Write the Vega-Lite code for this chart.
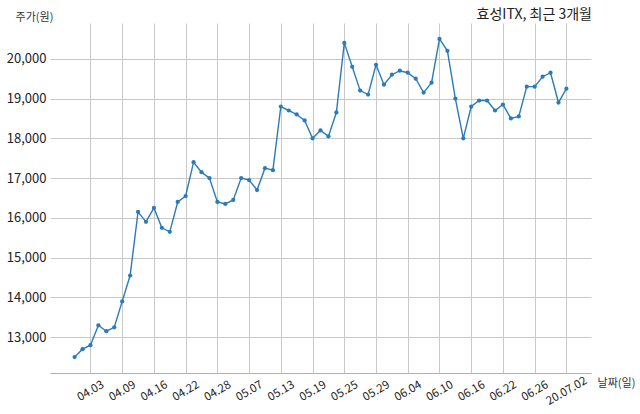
{
  "$schema": "https://vega.github.io/schema/vega-lite/v6.json",
  "width": 541,
  "height": 350,
  "autosize": "none",
  "padding": {"left": 50, "top": 23, "right": 49, "bottom": 41},
  "background": "white",
  "config": {
    "view": {"stroke": null},
    "font": "Noto Sans CJK KR"
  },
  "title": {
    "text": "효성ITX, 최근 3개월",
    "anchor": "end",
    "frame": "group",
    "fontSize": 14,
    "fontWeight": "normal",
    "color": "#222222",
    "offset": 4,
    "dx": 1,
    "dy": 15
  },
  "data": {
    "values": [
      {"day": 0, "date": "04.01", "price": 12500},
      {"day": 1, "date": "04.02", "price": 12700},
      {"day": 2, "date": "04.03", "price": 12800},
      {"day": 3, "date": "04.06", "price": 13300},
      {"day": 4, "date": "04.07", "price": 13150},
      {"day": 5, "date": "04.08", "price": 13250},
      {"day": 6, "date": "04.09", "price": 13900},
      {"day": 7, "date": "04.10", "price": 14550},
      {"day": 8, "date": "04.13", "price": 16150},
      {"day": 9, "date": "04.14", "price": 15900},
      {"day": 10, "date": "04.16", "price": 16250},
      {"day": 11, "date": "04.17", "price": 15750},
      {"day": 12, "date": "04.20", "price": 15650},
      {"day": 13, "date": "04.21", "price": 16400},
      {"day": 14, "date": "04.22", "price": 16550},
      {"day": 15, "date": "04.23", "price": 17400},
      {"day": 16, "date": "04.24", "price": 17150},
      {"day": 17, "date": "04.27", "price": 17000},
      {"day": 18, "date": "04.28", "price": 16400},
      {"day": 19, "date": "04.29", "price": 16350},
      {"day": 20, "date": "05.04", "price": 16450},
      {"day": 21, "date": "05.06", "price": 17000},
      {"day": 22, "date": "05.07", "price": 16950},
      {"day": 23, "date": "05.08", "price": 16700},
      {"day": 24, "date": "05.11", "price": 17250},
      {"day": 25, "date": "05.12", "price": 17200},
      {"day": 26, "date": "05.13", "price": 18800},
      {"day": 27, "date": "05.14", "price": 18700},
      {"day": 28, "date": "05.15", "price": 18600},
      {"day": 29, "date": "05.18", "price": 18450},
      {"day": 30, "date": "05.19", "price": 18000},
      {"day": 31, "date": "05.20", "price": 18200},
      {"day": 32, "date": "05.21", "price": 18050},
      {"day": 33, "date": "05.22", "price": 18650},
      {"day": 34, "date": "05.25", "price": 20400},
      {"day": 35, "date": "05.26", "price": 19800},
      {"day": 36, "date": "05.27", "price": 19200},
      {"day": 37, "date": "05.28", "price": 19100},
      {"day": 38, "date": "05.29", "price": 19850},
      {"day": 39, "date": "06.01", "price": 19350},
      {"day": 40, "date": "06.02", "price": 19600},
      {"day": 41, "date": "06.03", "price": 19700},
      {"day": 42, "date": "06.04", "price": 19650},
      {"day": 43, "date": "06.05", "price": 19500},
      {"day": 44, "date": "06.08", "price": 19150},
      {"day": 45, "date": "06.09", "price": 19400},
      {"day": 46, "date": "06.10", "price": 20500},
      {"day": 47, "date": "06.11", "price": 20200},
      {"day": 48, "date": "06.12", "price": 19000},
      {"day": 49, "date": "06.15", "price": 18000},
      {"day": 50, "date": "06.16", "price": 18800},
      {"day": 51, "date": "06.17", "price": 18950},
      {"day": 52, "date": "06.18", "price": 18950},
      {"day": 53, "date": "06.19", "price": 18700},
      {"day": 54, "date": "06.22", "price": 18850},
      {"day": 55, "date": "06.23", "price": 18500},
      {"day": 56, "date": "06.24", "price": 18550},
      {"day": 57, "date": "06.25", "price": 19300},
      {"day": 58, "date": "06.26", "price": 19300},
      {"day": 59, "date": "06.29", "price": 19550},
      {"day": 60, "date": "06.30", "price": 19650},
      {"day": 61, "date": "07.01", "price": 18900},
      {"day": 62, "date": "20.07.02", "price": 19250}
    ]
  },
  "encoding": {
    "x": {
      "field": "day",
      "type": "quantitative",
      "scale": {"domain": [-3.1, 65.1], "nice": false, "zero": false},
      "axis": {
        "values": [2, 6, 10, 14, 18, 22, 26, 30, 34, 38, 42, 46, 50, 54, 58, 62],
        "labelExpr": "['04.03','04.09','04.16','04.22','04.28','05.07','05.13','05.19','05.25','05.29','06.04','06.10','06.16','06.22','06.26','20.07.02'][(datum.value - 2) / 4]",
        "labelAngle": -30,
        "labelAlign": "center",
        "labelBaseline": "middle",
        "labelPadding": 18,
        "labelFontSize": 11.5,
        "labelColor": "#222222",
        "labelFlush": false,
        "labelOverlap": false,
        "ticks": false,
        "grid": true,
        "gridColor": "#c8c8c8",
        "gridWidth": 1,
        "domain": true,
        "domainColor": "#b0b0b0",
        "domainWidth": 1.2,
        "title": "날짜(일)",
        "titleFontSize": 11,
        "titleFontWeight": "normal",
        "titleColor": "#333333",
        "titleAngle": 0,
        "titleAlign": "center",
        "titleBaseline": "middle",
        "titleX": 566,
        "titleY": 10,
        "encode": {"labels": {"update": {"align": {"value": "center"}, "baseline": {"value": "middle"}}}}
      }
    },
    "y": {
      "field": "price",
      "type": "quantitative",
      "scale": {"domain": [12100, 20900], "nice": false, "zero": false},
      "axis": {
        "values": [13000, 14000, 15000, 16000, 17000, 18000, 19000, 20000],
        "format": ",d",
        "labelFontSize": 13,
        "labelColor": "#222222",
        "labelPadding": 4,
        "ticks": false,
        "domain": false,
        "grid": true,
        "gridColor": "#c8c8c8",
        "gridWidth": 1,
        "title": "주가(원)",
        "titleFontSize": 11,
        "titleFontWeight": "normal",
        "titleColor": "#333333",
        "titleAngle": 0,
        "titleAlign": "center",
        "titleBaseline": "middle",
        "titleX": -16,
        "titleY": -6
      }
    }
  },
  "layer": [
    {"mark": {"type": "line", "color": "#2b7bb9", "strokeWidth": 1.4}},
    {"mark": {"type": "point", "filled": true, "color": "#2b7bb9", "size": 18, "opacity": 1}}
  ]
}
